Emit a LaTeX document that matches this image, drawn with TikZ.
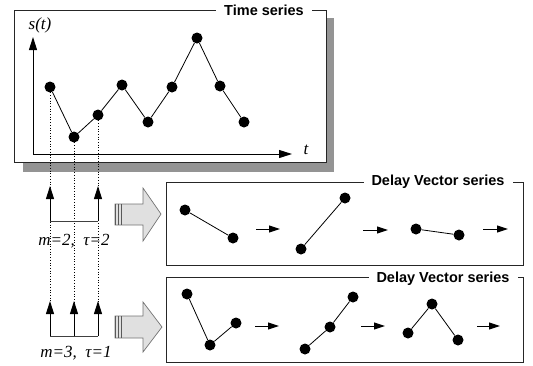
\documentclass[tikz,border=0pt]{standalone}
\usepackage{fontspec}
\setmainfont{Liberation Serif}
\newfontfamily\titlefont{Liberation Sans}
\usetikzlibrary{arrows.meta}
\begin{document}
\begin{tikzpicture}[x=1pt,y=-1pt,
  dot/.style={circle,fill=black,inner sep=0pt,minimum size=11pt},
  frame/.style={draw=black!85,line width=0.9pt},
  boxtitle/.style={fill=white,inner xsep=8pt,inner ysep=2pt,
    font=\titlefont\bfseries\fontsize{14.5}{16}\selectfont},
  link/.style={line width=0.8pt},
  axis/.style={line width=1pt,-{Triangle[length=13pt,width=8pt]}},
  nextarrow/.style={line width=1pt,-{Triangle[length=11pt,width=7pt]}},
  guide/.style={dotted,line width=0.7pt},
  pick/.style={line width=1pt,-{Triangle[length=13pt,width=8pt]}},
  bracket/.style={line width=1pt,draw=black!75},
  fatarrow/.style={fill=black!12,draw=black!55,line width=0.7pt},
  stripe/.style={draw=black!65,line width=1.2pt},
  lbl/.style={font=\itshape\fontsize{17}{17}\selectfont,inner sep=1pt}]
\useasboundingbox (0,0) rectangle (533,365);

% ---- time series panel ----
\fill[black!42] (23,18) rectangle (334,172);
\draw[frame,fill=white] (14,10) rectangle (326,162);
\node[boxtitle] (tstitle) at (264,10) {Time series};

\coordinate (O) at (33,154);
\coordinate (ytop) at (33,37);
\coordinate (xend) at (292,154);
\draw[axis] (O) -- (ytop);
\draw[axis] (O) -- (xend);
\node[lbl] (st) at (40,25) {s(t)};
\node[lbl] (tl) at (306,150) {t};

\node[dot] (p1) at (50,87) {};
\node[dot] (p2) at (74,137) {};
\node[dot] (p3) at (98,115) {};
\node[dot] (p4) at (122,85) {};
\node[dot] (p5) at (148,122) {};
\node[dot] (p6) at (172,87) {};
\node[dot] (p7) at (197,38) {};
\node[dot] (p8) at (220,86) {};
\node[dot] (p9) at (244,122) {};
\draw[link] (p1) -- (p2) -- (p3) -- (p4) -- (p5) -- (p6) -- (p7) -- (p8) -- (p9);

% ---- sampling guides ----
\coordinate (g1) at (50,302);
\coordinate (g2) at (74,302);
\coordinate (g3) at (98,302);
\draw[guide] (p1.center) -- (g1);
\draw[guide] (p2.center) -- (g2);
\draw[guide] (p3.center) -- (g3);

% m=2, tau=2
\coordinate (ut1) at (50,186);
\coordinate (ut3) at (98,186);
\coordinate (ub1) at (50,221);
\coordinate (ub3) at (98,221);
\draw[bracket] (ub1) -- (ub3);
\draw[pick] (ub1) -- (ut1);
\draw[pick] (ub3) -- (ut3);
\node[lbl] (lab1) at (74,241) {m=2, \ τ=2};

% m=3, tau=1
\coordinate (lt1) at (50,301);
\coordinate (lt2) at (74,301);
\coordinate (lt3) at (98,301);
\coordinate (lb1) at (50,336);
\coordinate (lb2) at (74,336);
\coordinate (lb3) at (98,336);
\draw[bracket] (lb1) -- (lb3);
\draw[pick] (lb1) -- (lt1);
\draw[pick] (lb2) -- (lt2);
\draw[pick] (lb3) -- (lt3);
\node[lbl] (lab2) at (76,353) {m=3, \ τ=1};

% ---- block arrows ----
\draw[fatarrow] (115,204) -- (143,204) -- (143,188) -- (161,214) -- (143,241)
  -- (143,225) -- (115,225) -- cycle;
\foreach \x in {115.6,118.6,121.6}
  \draw[stripe] (\x,204) -- (\x,225);
\draw[fatarrow] (115,316) -- (143,316) -- (143,302) -- (162,327) -- (143,352)
  -- (143,338) -- (115,338) -- cycle;
\foreach \x in {115.6,118.6,121.6}
  \draw[stripe] (\x,316) -- (\x,338);

% ---- delay vectors, m=2 ----
\draw[frame] (166,182) rectangle (523,265);
\node[boxtitle] (dv1title) at (438,182) {Delay Vector series};
\node[dot] (a1) at (185,210) {};
\node[dot] (a2) at (233,238) {};
\draw[link] (a1) -- (a2);
\coordinate (s1a) at (256,229); \coordinate (s1b) at (280,229);
\draw[nextarrow] (s1a) -- (s1b);
\node[dot] (b1) at (301,249) {};
\node[dot] (b2) at (345,198) {};
\draw[link] (b1) -- (b2);
\coordinate (s2a) at (363,230); \coordinate (s2b) at (388,230);
\draw[nextarrow] (s2a) -- (s2b);
\node[dot] (c1) at (416,229) {};
\node[dot] (c2) at (459,235) {};
\draw[link] (c1) -- (c2);
\coordinate (s3a) at (483,229); \coordinate (s3b) at (508,229);
\draw[nextarrow] (s3a) -- (s3b);

% ---- delay vectors, m=3 ----
\draw[frame] (166,277) rectangle (523,362);
\node[boxtitle] (dv2title) at (443,279) {Delay Vector series};
\node[dot] (d1) at (187,294) {};
\node[dot] (d2) at (210,345) {};
\node[dot] (d3) at (236,323) {};
\draw[link] (d1) -- (d2) -- (d3);
\coordinate (s4a) at (255,326); \coordinate (s4b) at (279,326);
\draw[nextarrow] (s4a) -- (s4b);
\node[dot] (e1) at (305,349) {};
\node[dot] (e2) at (330,327) {};
\node[dot] (e3) at (353,297) {};
\draw[link] (e1) -- (e2) -- (e3);
\coordinate (s5a) at (361,326); \coordinate (s5b) at (385,326);
\draw[nextarrow] (s5a) -- (s5b);
\node[dot] (f1) at (408,333) {};
\node[dot] (f2) at (432,304) {};
\node[dot] (f3) at (458,340) {};
\draw[link] (f1) -- (f2) -- (f3);
\coordinate (s6a) at (477,326); \coordinate (s6b) at (500,326);
\draw[nextarrow] (s6a) -- (s6b);
\end{tikzpicture}
\end{document}
